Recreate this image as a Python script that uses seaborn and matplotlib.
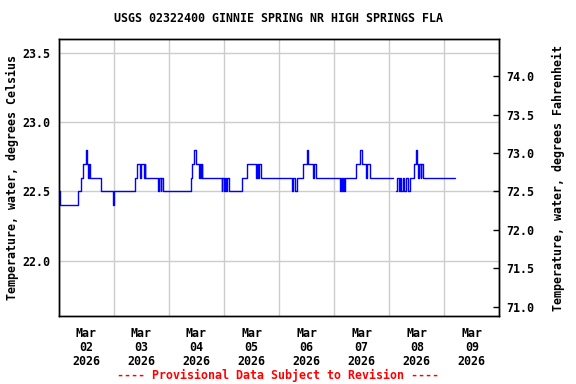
import pandas as pd
import matplotlib
matplotlib.use('Agg')
import matplotlib.pyplot as plt
import matplotlib.dates as mdates
import seaborn as sns

# Readings (step changes), deg C
times = [
    '2026-03-02 00:00', '2026-03-02 00:30', '2026-03-02 08:30', '2026-03-02 09:45',
    '2026-03-02 10:30', '2026-03-02 11:45', '2026-03-02 12:15', '2026-03-02 12:45',
    '2026-03-02 13:15', '2026-03-02 13:30', '2026-03-02 18:30', '2026-03-02 23:30',
    '2026-03-03 00:15', '2026-03-03 09:15', '2026-03-03 10:15', '2026-03-03 11:30',
    '2026-03-03 12:00', '2026-03-03 13:15', '2026-03-03 13:30', '2026-03-03 13:45',
    '2026-03-03 19:15', '2026-03-03 19:45', '2026-03-03 20:30', '2026-03-03 20:45',
    '2026-03-03 21:30', '2026-03-04 09:30', '2026-03-04 10:15', '2026-03-04 10:45',
    '2026-03-04 11:45', '2026-03-04 13:15', '2026-03-04 13:30', '2026-03-04 14:00',
    '2026-03-04 14:15', '2026-03-04 14:30', '2026-03-04 23:00', '2026-03-04 23:15',
    '2026-03-05 00:00', '2026-03-05 00:30', '2026-03-05 01:00', '2026-03-05 01:30',
    '2026-03-05 02:00', '2026-03-05 08:00', '2026-03-05 10:00', '2026-03-05 13:45',
    '2026-03-05 14:15', '2026-03-05 14:45', '2026-03-05 15:15', '2026-03-05 16:00',
    '2026-03-06 05:45', '2026-03-06 06:15', '2026-03-06 06:45', '2026-03-06 07:45',
    '2026-03-06 10:30', '2026-03-06 12:00', '2026-03-06 12:30', '2026-03-06 14:45',
    '2026-03-06 15:15', '2026-03-06 16:15', '2026-03-07 02:30', '2026-03-07 03:00',
    '2026-03-07 03:15', '2026-03-07 04:00', '2026-03-07 04:15', '2026-03-07 04:45',
    '2026-03-07 09:30', '2026-03-07 11:15', '2026-03-07 12:00', '2026-03-07 14:00',
    '2026-03-07 14:30', '2026-03-07 15:30', '2026-03-08 01:45',
    '2026-03-08 02:45', '2026-03-08 03:15', '2026-03-08 04:15', '2026-03-08 04:45',
    '2026-03-08 05:00', '2026-03-08 06:00', '2026-03-08 06:30', '2026-03-08 07:30',
    '2026-03-08 08:00', '2026-03-08 09:00', '2026-03-08 10:45', '2026-03-08 11:45',
    '2026-03-08 12:00', '2026-03-08 12:30', '2026-03-08 13:00', '2026-03-08 13:45',
    '2026-03-08 14:00', '2026-03-08 14:45', '2026-03-09 04:30',
]
temps = [
    22.5, 22.4, 22.5, 22.6, 22.7, 22.8, 22.7, 22.6, 22.7, 22.6, 22.5, 22.4,
    22.5, 22.6, 22.7, 22.6, 22.7, 22.6, 22.7, 22.6, 22.5, 22.6, 22.5, 22.6,
    22.5, 22.6, 22.7, 22.8, 22.7, 22.6, 22.7, 22.6, 22.7, 22.6, 22.5, 22.6,
    22.5, 22.6, 22.5, 22.6, 22.5, 22.6, 22.7, 22.6, 22.7, 22.6, 22.7, 22.6,
    22.5, 22.6, 22.5, 22.6, 22.7, 22.8, 22.7, 22.6, 22.7, 22.6, 22.5, 22.6,
    22.5, 22.6, 22.5, 22.6, 22.7, 22.8, 22.7, 22.6, 22.7, 22.6, 22.6,
    22.5, 22.6, 22.5, 22.6, 22.5, 22.6, 22.5, 22.6, 22.5, 22.6, 22.7, 22.8,
    22.7, 22.6, 22.7, 22.6, 22.7, 22.6, 22.6,
]
# record segment (gap in data early Mar 08)
segment = [0] * 71 + [1] * 19

df = pd.DataFrame({'time': pd.to_datetime(times), 'temp': temps, 'seg': segment})

sns.set_style('white')
plt.rcParams['font.family'] = ['DejaVu Sans Mono']
plt.rcParams['font.weight'] = 'bold'
plt.rcParams['font.size'] = 8.4
plt.rcParams['text.color'] = 'black'
plt.rcParams['xtick.color'] = 'black'
plt.rcParams['ytick.color'] = 'black'

fig = plt.figure(figsize=(5.76, 3.84), dpi=100)
ax = fig.add_axes([0.102, 0.177, 0.765, 0.721])

sns.lineplot(data=df, x='time', y='temp', units='seg', estimator=None,
             drawstyle='steps-post', color='#0000ff', linewidth=1, ax=ax)

ax.set_xlim(pd.Timestamp('2026-03-02'), pd.Timestamp('2026-03-10'))
ax.set_ylim(21.6, 23.6)
ax.set_yticks([22.0, 22.5, 23.0, 23.5])
ax.yaxis.set_major_formatter(matplotlib.ticker.FormatStrFormatter('%.1f'))
ax.xaxis.set_major_locator(mdates.HourLocator(byhour=12))
ax.xaxis.set_major_formatter(mdates.DateFormatter('%b\n%d\n%Y'))
ax.xaxis.set_minor_locator(mdates.DayLocator())
ax.tick_params(axis='x', which='both', length=0, pad=8)
ax.tick_params(axis='y', length=0, pad=6)
ax.grid(which='minor', axis='x', color='#cccccc', lw=1)
ax.grid(which='major', axis='y', color='#cccccc', lw=1)
ax.set_xlabel('')
ax.set_ylabel('')
for s in ax.spines.values():
    s.set_color('black')
    s.set_linewidth(1)

ax2 = ax.twinx()
ax2.set_ylim(21.6 * 1.8 + 32, 23.6 * 1.8 + 32)
ax2.set_yticks([71.0, 71.5, 72.0, 72.5, 73.0, 73.5, 74.0])
ax2.yaxis.set_major_formatter(matplotlib.ticker.FormatStrFormatter('%.1f'))
ax2.tick_params(axis='y', direction='in', length=4, width=1, color='black', pad=5)
ax2.grid(False)
for s in ax2.spines.values():
    s.set_color('black')
    s.set_linewidth(1)

fig.text(0.484, 1 - 19 / 384, 'USGS 02322400 GINNIE SPRING NR HIGH SPRINGS FLA',
         ha='center', va='center')
fig.text(12 / 576, 0.5375, 'Temperature, water, degrees Celsius',
         rotation=90, ha='center', va='center')
fig.text(558 / 576, 0.5375, 'Temperature, water, degrees Fahrenheit',
         rotation=90, ha='center', va='center')
fig.text(0.482, 1 - 375 / 384, '---- Provisional Data Subject to Revision ----',
         ha='center', va='center', color='red')

fig.canvas.draw()
for lab in ax.get_xticklabels():
    lab.set_linespacing(1.1)

fig.savefig('out.png', dpi=100)
